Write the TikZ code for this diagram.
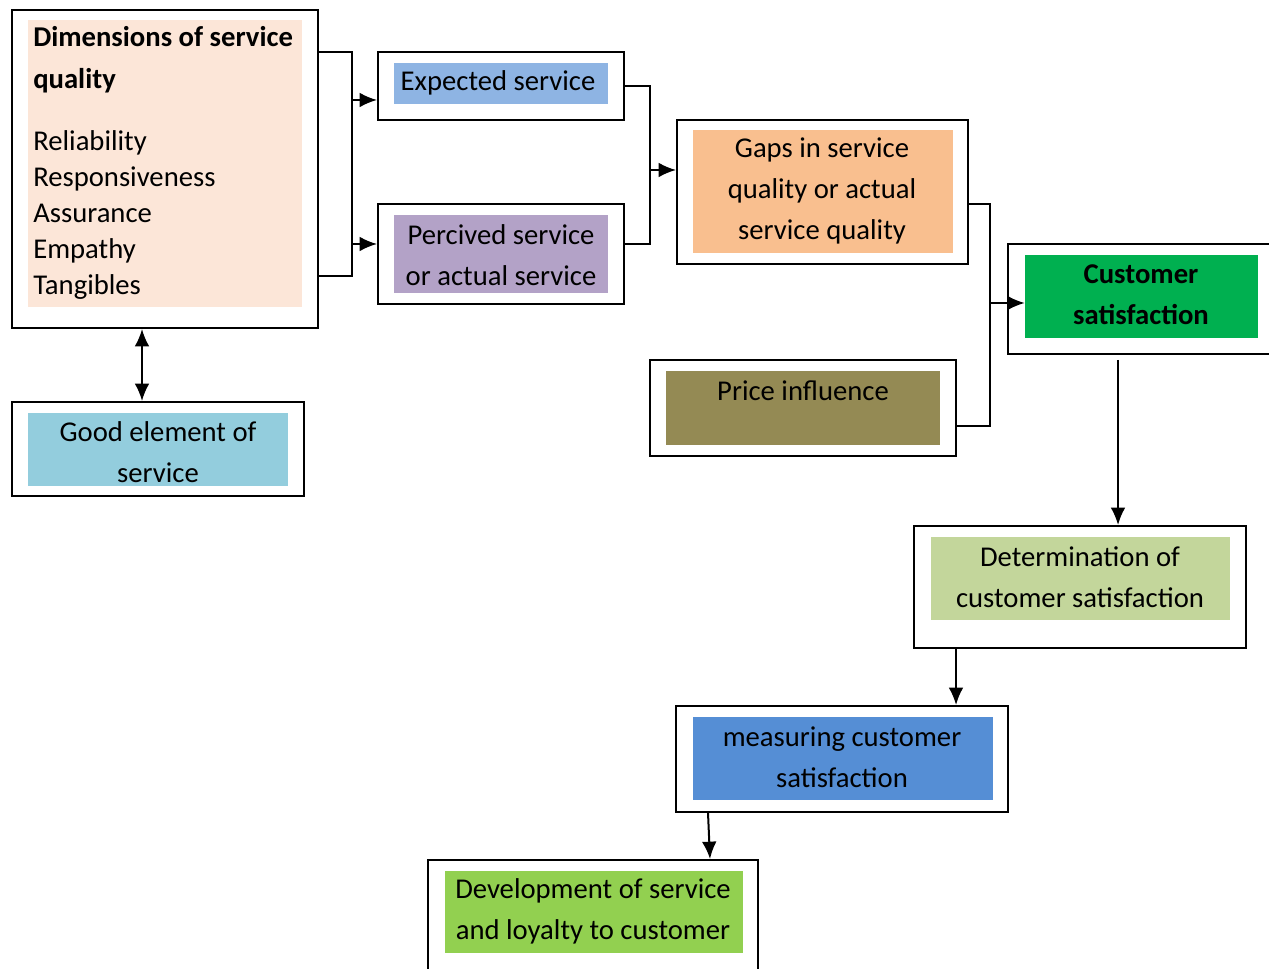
\documentclass[tikz,border=0pt]{standalone}
\usepackage{fontspec}
\setmainfont{Carlito}
\usetikzlibrary{arrows.meta,fit}
\definecolor{cDim}{HTML}{FCE6D8}
\definecolor{cExp}{HTML}{8EB4E3}
\definecolor{cPer}{HTML}{B3A2C7}
\definecolor{cGap}{HTML}{F9BF8F}
\definecolor{cCus}{HTML}{00B050}
\definecolor{cPri}{HTML}{948A54}
\definecolor{cGood}{HTML}{93CDDD}
\definecolor{cDet}{HTML}{C3D69B}
\definecolor{cMea}{HTML}{558ED5}
\definecolor{cDev}{HTML}{92D050}
\begin{document}
\begin{tikzpicture}[x=0.75pt,y=-0.75pt,
 frame/.style={draw=black,line width=1.5pt,inner sep=0pt,fill=white},
 fillbox/.style={inner sep=0pt,draw=none},
 txt/.style={font=\fontsize{21.5}{30.75}\selectfont,align=center,inner sep=0pt,text=black},
 conn/.style={line width=1.5pt,draw=black},
 arr/.style={conn,-{Latex[length=13pt,width=11pt]}},
 dbl/.style={conn,{Latex[length=13pt,width=11pt]}-{Latex[length=13pt,width=11pt]}},
]
\clip (0,0) rectangle (1269,969);
\fill[white] (0,0) rectangle (1269,969);

% Dimensions of service quality
\node[frame,fit={(12,10)(318,328)}] (dimF) {};
\node[fillbox,fill=cDim,fit={(28,20)(302,307)}] (dimI) {};
\node[txt,font=\fontsize{21.5}{31.5}\selectfont\bfseries,align=left,anchor=west] (dimT) at (33,60) {Dimensions of service\\quality};
\node[txt,font=\fontsize{21.5}{27}\selectfont,align=left,anchor=west] (dimL) at (33,215.5) {Reliability\\Responsiveness\\Assurance\\Empathy\\Tangibles};

% Expected service
\node[frame,fit={(378,52)(624,120)}] (expF) {};
\node[fillbox,fill=cExp,fit={(394,63)(608,104)}] (expI) {};
\node[txt] (expT) at (498,83) {Expected service};

% Percived service
\node[frame,fit={(378,204)(624,304)}] (perF) {};
\node[fillbox,fill=cPer,fit={(394,215)(608,293)}] (perI) {};
\node[txt] (perT) at (501,255) {Percived service\\or actual service};

% Gaps
\node[frame,fit={(677,120)(968,264)}] (gapF) {};
\node[fillbox,fill=cGap,fit={(693,130)(953,253)}] (gapI) {};
\node[txt] (gapT) at (822,191) {Gaps in service\\quality or actual\\service quality};

% Customer satisfaction
\node[frame,fit={(1008,244)(1290,354)}] (cusF) {};
\node[fillbox,fill=cCus,fit={(1025,255)(1258,338)}] (cusI) {};
\node[txt,font=\fontsize{21.5}{30.75}\selectfont\bfseries] (cusT) at (1141,295) {Customer\\satisfaction};

% Price influence
\node[frame,fit={(650,360)(956,456)}] (priF) {};
\node[fillbox,fill=cPri,fit={(666,371)(940,445)}] (priI) {};
\node[txt] (priT) at (803,391) {Price influence};

% Good element of service
\node[frame,fit={(12,402)(304,496)}] (goodF) {};
\node[fillbox,fill=cGood,fit={(28,413)(288,486)}] (goodI) {};
\node[txt] (goodT) at (158,452) {Good element of\\service};

% Determination
\node[frame,fit={(914,526)(1246,648)}] (detF) {};
\node[fillbox,fill=cDet,fit={(931,537)(1230,620)}] (detI) {};
\node[txt] (detT) at (1080,577) {Determination of\\customer satisfaction};

% measuring
\node[frame,fit={(676,706)(1008,812)}] (meaF) {};
\node[fillbox,fill=cMea,fit={(693,717)(993,800)}] (meaI) {};
\node[txt] (meaT) at (842,757) {measuring customer\\satisfaction};

% Development
\node[frame,fit={(428,860)(758,990)}] (devF) {};
\node[fillbox,fill=cDev,fit={(445,871)(743,953)}] (devI) {};
\node[txt] (devT) at (593,911) {Development of service\\and loyalty to customer};

% connectors: dimensions -> expected / percived
\coordinate (b1) at (352,52);
\coordinate (b2) at (352,276);
\coordinate (a1) at (352,100);
\coordinate (a2) at (352,244);
\draw[conn] (dimF.east |- b1) -- (b1) -- (b2) -- (dimF.east |- b2);
\draw[arr] (a1) -- (expF.west |- a1);
\draw[arr] (a2) -- (perF.west |- a2);

% expected / percived -> gaps
\coordinate (c1) at (650,86);
\coordinate (c2) at (650,244);
\coordinate (c3) at (650,170);
\draw[conn] (expF.east |- c1) -- (c1) -- (c2) -- (perF.east |- c2);
\draw[arr] (c3) -- (gapF.west |- c3);

% gaps / price -> customer satisfaction
\coordinate (e1) at (990,204);
\coordinate (e2) at (990,426);
\coordinate (e3) at (990,303);
\draw[conn] (gapF.east |- e1) -- (e1) -- (e2) -- (priF.east |- e2);
\draw[arr] (e3) -- (cusI.west |- e3);

% dimensions <-> good element
\coordinate (dx) at (142,0);
\draw[dbl] (dimF.south -| dx) -- (goodF.north -| dx);

% customer satisfaction -> determination
\coordinate (f1) at (1118,360);
\draw[arr] (f1) -- (detF.north -| f1);

% determination -> measuring
\coordinate (g1) at (956,0);
\draw[arr] (detF.south -| g1) -- (meaF.north -| g1);

% measuring -> development
\coordinate (h1) at (708,0);
\coordinate (h2) at (710,0);
\draw[arr] (meaF.south -| h1) -- (devF.north -| h2);
\end{tikzpicture}
\end{document}
